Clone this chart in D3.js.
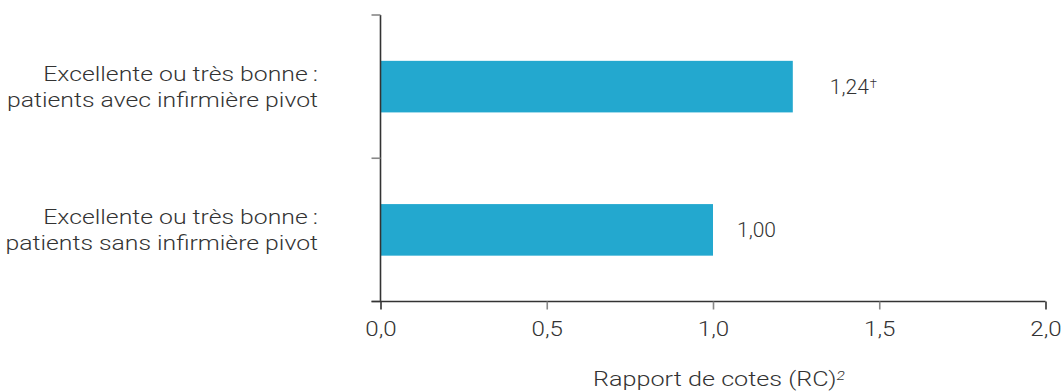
<!DOCTYPE html>
<html>
<head>
<meta charset="utf-8">
<script src="https://cdn.jsdelivr.net/npm/d3@7/dist/d3.min.js"></script>
<style>
  html, body { margin: 0; padding: 0; background: #fff; }
  svg { display: block; }
  text { font-family: Roboto, "Liberation Sans", sans-serif; font-weight: 300; fill: #333; }
</style>
</head>
<body>
<svg id="chart" width="1061" height="392"></svg>
<script>
// Odds ratios for an "excellent or very good" rating, with vs. without a pivot nurse
const categories = [
  ["Excellente ou très bonne\u2009:", "patients avec infirmière pivot"],
  ["Excellente ou très bonne\u2009:", "patients sans infirmière pivot"]
];
const values = [1.24, 1.00];
const valueLabels = ["1,24", "1,00"];
const valueMarks = ["†", ""];
const xTicks = [0, 0.5, 1.0, 1.5, 2.0];
const xTickLabels = ["0,0", "0,5", "1,0", "1,5", "2,0"];
const xTitle = "Rapport de cotes (RC)";
const xTitleSup = "2";

const svg = d3.select("#chart");
const plotLeft = 380.5, plotRight = 1045.5, plotTop = 15, plotBottom = 301.5;
const barColor = "#23a8cf";

// Place a text node at (px, py), stretched horizontally around its anchor point
function place(sel, px, py, sx) {
  sel.attr("transform", `translate(${px},${py}) scale(${sx},1)`);
}

const x = d3.scaleLinear().domain([0, 2]).range([plotLeft, plotRight]);
const y = d3.scaleBand().domain(d3.range(categories.length)).range([plotTop, plotBottom]).paddingInner(0.64).paddingOuter(0.32);
const band = d3.scaleBand().domain(d3.range(categories.length)).range([plotTop, plotBottom]);

// bars
svg.append("g").selectAll("rect").data(values).join("rect")
  .attr("x", x(0))
  .attr("y", (d, i) => y(i))
  .attr("width", d => x(d) - x(0))
  .attr("height", y.bandwidth())
  .attr("fill", barColor);

// value labels
svg.append("g").selectAll("text").data(values).join("text")
  .each(function (d, i) {
    const t = d3.select(this)
      .attr("dy", "0.36em")
      .style("font-size", "21px");
    place(t, x(d) + (valueMarks[i] ? 37 : 24), y(i) + y.bandwidth() / 2, 1.0);
    t.append("tspan").text(valueLabels[i]);
    if (valueMarks[i]) t.append("tspan").text(valueMarks[i]).attr("dx", "1").attr("dy", "-0.45em").style("font-size", "13px");
  });

// y axis: boundary ticks between categories
const yAxisG = svg.append("g");
yAxisG.append("line").attr("x1", plotLeft).attr("x2", plotLeft).attr("y1", plotTop).attr("y2", plotBottom)
  .attr("stroke", "#333").attr("stroke-width", 1.6);
const yBounds = d3.range(categories.length + 1).map(i => i < categories.length ? band(i) : plotBottom);
yAxisG.selectAll(".yt").data(yBounds).join("line")
  .attr("x1", plotLeft - 9).attr("x2", plotLeft).attr("y1", d => d).attr("y2", d => d)
  .attr("stroke", "#888").attr("stroke-width", 1.6);

// category labels, two lines each
const catG = svg.append("g");
categories.forEach((lines, i) => {
  const cy = band(i) + band.bandwidth() / 2;
  lines.forEach((line, j) => {
    const t = catG.append("text")
      .attr("text-anchor", "end")
      .attr("dy", "0.36em")
      .style("font-size", "21px")
      .text(line);
    place(t, 318, cy + (j - 0.5) * 26, 1.18);
  });
});

// x axis
const xAxis = d3.axisBottom(x).tickValues(xTicks).tickFormat((d, i) => xTickLabels[i]).tickSize(8).tickPadding(10);
const xg = svg.append("g").attr("transform", `translate(0,${plotBottom})`).call(xAxis);
xg.select(".domain").attr("stroke", "#333").attr("stroke-width", 1.6).attr("d", `M${plotLeft - 9},0H${plotRight}`);
xg.selectAll(".tick line").attr("stroke", "#888").attr("stroke-width", 1.6);
xg.selectAll(".tick").filter(d => d === 0 || d === 2).select("line").attr("stroke", "#333");
xg.selectAll(".tick text")
  .style("font-size", "21px").style("font-family", null).attr("fill", null)
  .attr("y", null).attr("dy", null)
  .each(function () { place(d3.select(this), 0, 34, 1.15); });

// x axis title
const title = svg.append("text")
  .attr("text-anchor", "middle")
  .style("font-size", "21px");
place(title, (plotLeft + plotRight) / 2 + 6, 386, 1.2);
title.append("tspan").text(xTitle);
title.append("tspan").text(xTitleSup).attr("dy", "-0.5em").style("font-size", "13px").style("font-style", "italic");
</script>
</body>
</html>
